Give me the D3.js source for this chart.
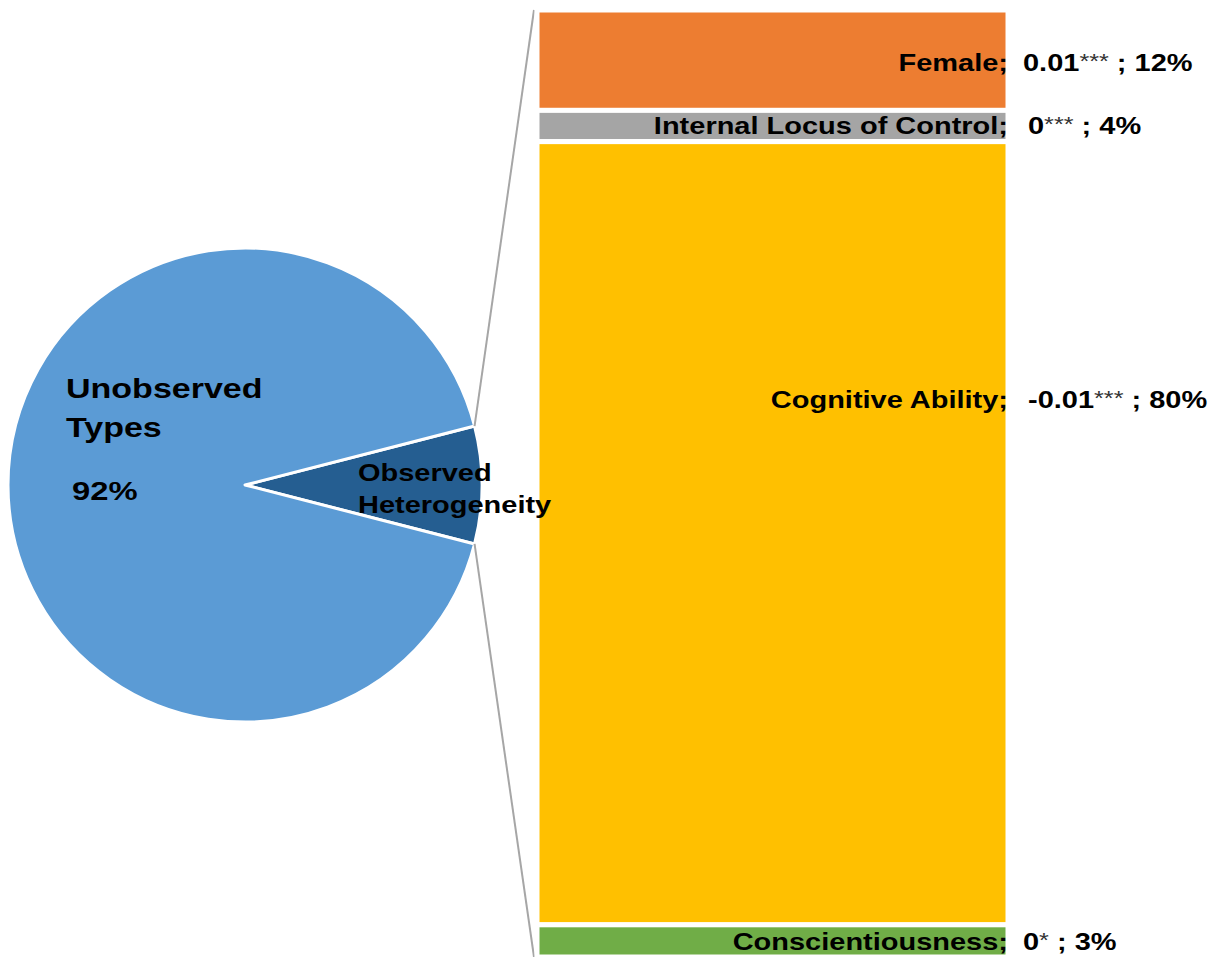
<!DOCTYPE html>
<html>
<head>
<meta charset="utf-8">
<script src="https://cdn.jsdelivr.net/npm/d3@7"></script>
<style>
  html, body { margin: 0; padding: 0; background: #fff; }
  svg { display: block; }
  text { font-family: "Liberation Sans", Arial, sans-serif; font-weight: bold; fill: #000; }
</style>
</head>
<body>
<svg id="chart" width="1230" height="957"></svg>
<script>
// ---- data ----
const pieCategories = ["Observed Heterogeneity", "Unobserved Types"];
const pieValues = [8, 92];
const pieColors = ["#255E91", "#5B9BD5"];

const barCategories = ["Female", "Internal Locus of Control", "Cognitive Ability", "Conscientiousness"];
const barValues = [10.6, 3.3, 82.7, 3.4];          // segment sizes as drawn
const barCoefs = ["0.01", "0", "-0.01", "0"];
const barStars = ["***", "***", "***", "*"];
const barPctLabels = ["12%", "4%", "80%", "3%"];
const barColors = ["#ED7D31", "#A5A5A5", "#FFC000", "#70AD47"];

// ---- layout ----
const svg = d3.select("#chart");
const SX = 1.26;                 // horizontal stretch of the original rendering
const cx = 245, cy = 485, R = 237;
const barX0 = 537, barX1 = 1008, barY0 = 10, barY1 = 957;
const labelFrac = [0.53, 0.5, 0.33, 0.53];
const labelGap = [15, 20, 20, 15];

function stretchedText(g, x, y, anchor) {
  return g.append("text")
    .attr("text-anchor", anchor || "start")
    .attr("transform", `translate(${x},${y}) scale(${SX},1)`);
}

// ---- pie ----
const half = (pieValues[0] / d3.sum(pieValues)) * Math.PI;
const pie = d3.pie().sort(null).value(d => d)
  .startAngle(Math.PI / 2 - half).endAngle(Math.PI / 2 - half + 2 * Math.PI);
const arcs = pie(pieValues);
const arc = d3.arc().innerRadius(0).outerRadius(R);

const pg = svg.append("g").attr("transform", `translate(${cx},${cy})`);

// connector lines
const aTop = arcs[0].startAngle, aBot = arcs[0].endAngle;
const pTop = [cx + R * Math.sin(aTop), cy - R * Math.cos(aTop)];
const pBot = [cx + R * Math.sin(aBot), cy - R * Math.cos(aBot)];
svg.append("line").attr("x1", pTop[0]).attr("y1", pTop[1]).attr("x2", barX0 - 3).attr("y2", barY0)
  .attr("stroke", "#A6A6A6").attr("stroke-width", 2);
svg.append("line").attr("x1", pBot[0]).attr("y1", pBot[1]).attr("x2", barX0 - 3).attr("y2", barY1)
  .attr("stroke", "#A6A6A6").attr("stroke-width", 2);

pg.selectAll("path").data(arcs).join("path")
  .attr("d", arc)
  .attr("fill", (d, i) => pieColors[i])
  .attr("stroke", "#fff").attr("stroke-width", 3).attr("stroke-linejoin", "round");

// ---- bar ----
const y = d3.scaleLinear().domain([0, d3.sum(barValues)]).range([barY0, barY1]);
let acc = 0;
const segs = barValues.map((v, i) => { const s = { i, y0: acc, y1: acc + v }; acc += v; return s; });

const bg = svg.append("g");
bg.selectAll("rect").data(segs).join("rect")
  .attr("x", barX0).attr("width", barX1 - barX0)
  .attr("y", d => y(d.y0)).attr("height", d => y(d.y1) - y(d.y0))
  .attr("fill", d => barColors[d.i])
  .attr("stroke", "#fff").attr("stroke-width", 5);

const FS = 23;
segs.forEach(d => {
  const yc = y(d.y0) + (y(d.y1) - y(d.y0)) * labelFrac[d.i];
  const base = yc + FS * 0.36;
  stretchedText(svg, barX1, base, "end").attr("font-size", FS).text(barCategories[d.i] + ";");
  const t = stretchedText(svg, barX1 + labelGap[d.i], base, "start").attr("font-size", FS);
  t.append("tspan").text(barCoefs[d.i]);
  t.append("tspan").attr("font-size", 20).attr("font-weight", "normal").attr("fill", "#333")
    .attr("dy", -3).text(barStars[d.i]);
  t.append("tspan").attr("dy", 3).text(" ; " + barPctLabels[d.i]);
});

// pie labels (drawn last so they sit above the bar)
stretchedText(svg, 66, 398).attr("font-size", 27).text("Unobserved");
stretchedText(svg, 66, 437).attr("font-size", 27).text("Types");
stretchedText(svg, 72, 500).attr("font-size", 26).text(pieValues[1] + "%");

stretchedText(svg, 358, 481).attr("font-size", 23).text("Observed");
stretchedText(svg, 358, 513).attr("font-size", 23).text("Heterogeneity");
</script>
</body>
</html>
